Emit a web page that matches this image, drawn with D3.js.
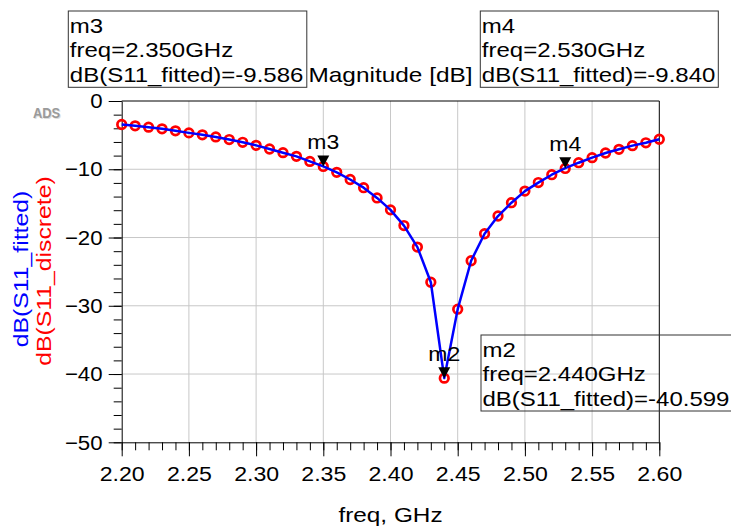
<!DOCTYPE html>
<html>
<head>
<meta charset="utf-8">
<script src="https://cdn.jsdelivr.net/npm/d3@7"></script>
<style>
  html, body { margin: 0; padding: 0; background: #fff; }
  svg { display: block; }
  text { font-family: "Liberation Sans", Arial, sans-serif; }
</style>
</head>
<body>
<svg id="chart" width="731" height="527"></svg>
<script>
// ---------- data ----------
const freqs = [2.20, 2.21, 2.22, 2.23, 2.24, 2.25, 2.26, 2.27, 2.28, 2.29,
               2.30, 2.31, 2.32, 2.33, 2.34, 2.35, 2.36, 2.37, 2.38, 2.39,
               2.40, 2.41, 2.42, 2.43, 2.44, 2.45, 2.46, 2.47, 2.48, 2.49,
               2.50, 2.51, 2.52, 2.53, 2.54, 2.55, 2.56, 2.57, 2.58, 2.59, 2.60];
const s11Discrete = [-3.44, -3.64, -3.83, -4.08, -4.37, -4.67, -4.96, -5.26, -5.65, -6.05,
                     -6.50, -7.03, -7.57, -8.11, -8.85, -9.59, -10.45, -11.50, -12.70, -14.20,
                     -15.95, -18.25, -21.40, -26.55, -40.60, -30.50, -23.40, -19.45, -16.85, -14.90,
                     -13.20, -11.95, -10.80, -9.88, -9.04, -8.30, -7.62, -7.08, -6.54, -6.12, -5.60];
const s11Fitted = [-3.44, -3.64, -3.83, -4.08, -4.37, -4.67, -4.96, -5.26, -5.65, -6.05,
                   -6.50, -7.03, -7.57, -8.11, -8.85, -9.586, -10.45, -11.50, -12.70, -14.20,
                   -15.95, -18.25, -21.40, -26.55, -40.599, -30.50, -23.40, -19.45, -16.85, -14.90,
                   -13.20, -11.95, -10.80, -9.840, -9.04, -8.30, -7.62, -7.08, -6.54, -6.12, -5.60];
const xTicks = [2.20, 2.25, 2.30, 2.35, 2.40, 2.45, 2.50, 2.55, 2.60];
const yTicks = [0, -10, -20, -30, -40, -50];
const markerNames = ["m3", "m4", "m2"];
const markerFreqs = [2.350, 2.530, 2.440];
const markerValues = [-9.586, -9.840, -40.599];

// ---------- layout ----------
const svg = d3.select("#chart");
const L = 121.7, R = 659.3, T = 101, B = 442.3;
const x = d3.scaleLinear().domain([2.2, 2.6]).range([L, R]);
const y = d3.scaleLinear().domain([0, -50]).range([T, B]);

function stext(parent, px, py, str, o = {}) {
  const t = parent.append("text")
    .attr("transform", `translate(${px},${py}) rotate(${o.rotate || 0}) scale(${o.sx || 1},1)`)
    .attr("font-size", o.size || 20)
    .attr("fill", o.fill || "#000")
    .attr("text-anchor", o.anchor || "start")
    .text(str);
  if (o.weight) t.attr("font-weight", o.weight);
  return t;
}

// grid
const grid = svg.append("g");
grid.selectAll("line.v").data(xTicks.slice(1, -1)).enter().append("line")
  .attr("x1", d => x(d)).attr("x2", d => x(d)).attr("y1", T).attr("y2", B)
  .attr("stroke", "#c8c8c8").attr("stroke-width", 1);
grid.selectAll("line.h").data(yTicks.slice(1, -1)).enter().append("line")
  .attr("x1", L).attr("x2", R).attr("y1", d => y(d)).attr("y2", d => y(d))
  .attr("stroke", "#c8c8c8").attr("stroke-width", 1);

// frame top/right
svg.append("path").attr("d", `M${L},${T}H${R}V${B}`).attr("fill", "none")
  .attr("stroke", "#000").attr("stroke-width", 1);

// minor ticks
const yMinor = d3.range(0, -50.01, -2);
const xMinor = d3.range(0, 41).map(i => 2.2 + i * 0.01);
svg.append("g").attr("transform", `translate(${L},0)`)
  .call(d3.axisLeft(y).tickValues(yMinor).tickSize(8).tickFormat(""))
  .call(g => g.select(".domain").remove());
svg.append("g").attr("transform", `translate(0,${B})`)
  .call(d3.axisBottom(x).tickValues(xMinor).tickSize(8).tickFormat(""))
  .call(g => g.select(".domain").remove());

// major axes
const yAxis = svg.append("g").attr("transform", `translate(${L},0)`)
  .call(d3.axisLeft(y).tickValues(yTicks).tickSize(13).tickSizeOuter(0).tickPadding(5).tickFormat(d3.format("d")));
yAxis.selectAll("text").attr("font-size", 21).attr("fill", "#000")
  .attr("font-family", '"Liberation Sans", Arial, sans-serif')
  .attr("transform", "scale(1.06,1)");
const xAxis = svg.append("g").attr("transform", `translate(0,${B})`)
  .call(d3.axisBottom(x).tickValues(xTicks).tickSize(14).tickSizeOuter(0).tickPadding(10).tickFormat(d3.format(".2f")));
xAxis.selectAll("text").attr("font-size", 21).attr("fill", "#000")
  .attr("font-family", '"Liberation Sans", Arial, sans-serif')
  .attr("transform", "scale(1.1,1)");
svg.selectAll(".tick line").attr("stroke", "#000");
svg.selectAll(".domain").attr("stroke", "#000");

// discrete circles
svg.append("g").selectAll("circle").data(freqs).enter().append("circle")
  .attr("cx", d => x(d)).attr("cy", (d, i) => y(s11Discrete[i])).attr("r", 4.3)
  .attr("fill", "none").attr("stroke", "#ff0000").attr("stroke-width", 2.7);

// fitted line
svg.append("path").datum(freqs)
  .attr("d", d3.line().x(d => x(d)).y((d, i) => y(s11Fitted[i])).curve(d3.curveLinear))
  .attr("fill", "none").attr("stroke", "#0000ff").attr("stroke-width", 2.5)
  .attr("stroke-linejoin", "round");

// markers
markerNames.forEach((name, i) => {
  const mx = x(markerFreqs[i]), my = y(markerValues[i]);
  svg.append("path").attr("d", `M${mx - 6},${my - 11}L${mx + 6},${my - 11}L${mx},${my}Z`).attr("fill", "#000");
  stext(svg, mx, my - 17, name, { size: 20, sx: 1.15, anchor: "middle" });
});

// marker boxes
const boxes = [
  { name: "m3", bx: 68.3, by: 11, bw: 238.5, bh: 76.3, f: 0 },
  { name: "m4", bx: 480.3, by: 11, bw: 238, bh: 76.3, f: 1 },
  { name: "m2", bx: 481, by: 335, bw: 262, bh: 76, f: 2 }
];
boxes.forEach(b => {
  svg.append("rect").attr("x", b.bx).attr("y", b.by).attr("width", b.bw).attr("height", b.bh)
    .attr("fill", "none").attr("stroke", "#333").attr("stroke-width", 1);
  const lines = [markerNames[b.f],
    "freq=" + markerFreqs[b.f].toFixed(3) + "GHz",
    "dB(S11_fitted)=" + markerValues[b.f].toFixed(3)];
  lines.forEach((s, k) => stext(svg, b.bx + 1.5, b.by + 21.5 + k * 24.5, s, { size: 20, sx: 1.2 }));
});

// title
stext(svg, (L + R) / 2, 81.5, "Magnitude [dB]", { size: 20, sx: 1.22, anchor: "middle" });

// axis labels
stext(svg, (L + R) / 2, 522, "freq, GHz", { size: 21, sx: 1.16, anchor: "middle" });
stext(svg, 27.5, 269, "dB(S11_fitted)", { size: 21, sx: 1.18, anchor: "middle", rotate: -90, fill: "#0000ff" });
stext(svg, 50.5, 271, "dB(S11_discrete)", { size: 21, sx: 1.18, anchor: "middle", rotate: -90, fill: "#ff0000" });

// ADS logo
stext(svg, 34, 119, "ADS", { size: 14, sx: 0.92, weight: "bold", fill: "#dddddd" });
stext(svg, 33, 118, "ADS", { size: 14, sx: 0.92, weight: "bold", fill: "#9a9a9a" });
</script>
</body>
</html>
